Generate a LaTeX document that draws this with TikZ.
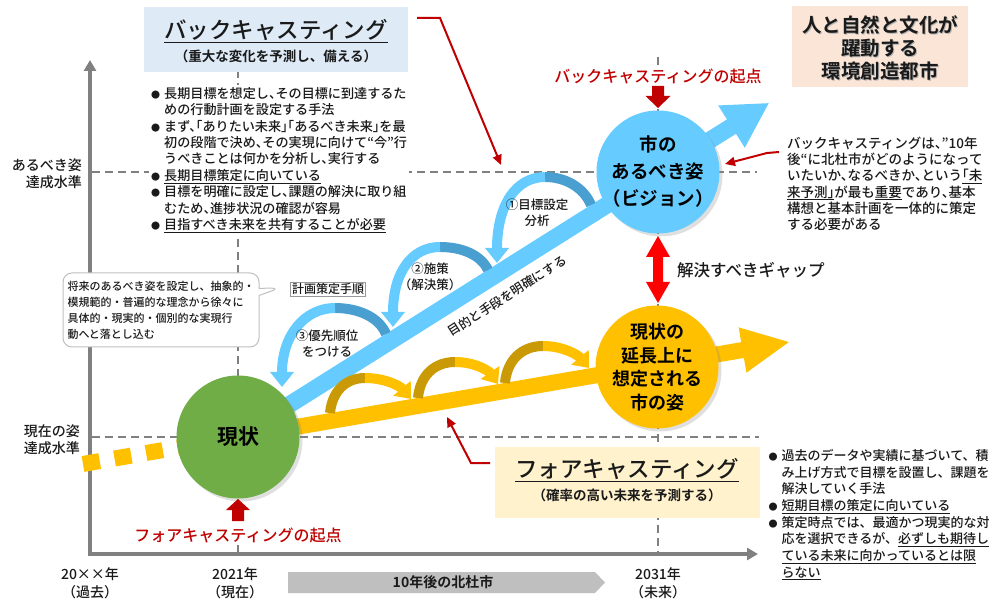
\documentclass[tikz,border=0pt]{standalone}
\usepackage{fontspec}
\setmainfont{Noto Sans CJK JP Medium}[BoldFont={Noto Sans CJK JP Bold}]
\usetikzlibrary{arrows.meta,shapes.callouts,shadows}
\definecolor{axgray}{HTML}{808080}
\definecolor{skyb}{HTML}{66CCFF}
\definecolor{skyd}{HTML}{4A9FD1}
\definecolor{gold}{HTML}{FFC000}
\definecolor{goldd}{HTML}{C99A06}
\definecolor{leaf}{HTML}{70AD47}
\definecolor{dred}{HTML}{C00000}
\definecolor{bred}{HTML}{FF0000}
\definecolor{bcfill}{HTML}{DEEBF7}
\definecolor{fcfill}{HTML}{FFF2CC}
\definecolor{peach}{HTML}{FBE5D6}
\definecolor{pent}{HTML}{BFBFBF}
\definecolor{txt}{HTML}{1A1A1A}
\newcommand{\mybul}{\makebox[13pt][l]{\fontsize{9}{9}\selectfont ●}}
\newcommand{\myind}{\hspace*{13pt}}
\begin{document}
\begin{tikzpicture}[x=1pt,y=-1pt,
  axisline/.style={draw=axgray,line width=3.5pt},
  guide/.style={draw=axgray,line width=2.5pt,dash pattern=on 8pt off 5pt},
  axlbl/.style={text=txt,inner sep=1pt,font=\fontsize{14}{17}\selectfont},
  xlbl/.style={text=txt,inner sep=1pt,align=center,font=\fontsize{14}{18}\selectfont},
  blist/.style={text=txt,fill=white,inner sep=2pt,align=left,font=\fontsize{13.1}{16.4}\selectfont\addfontfeature{RawFeature=+halt}},
  flist/.style={text=txt,fill=white,inner sep=2pt,align=left,font=\fontsize{13}{16.7}\selectfont},
  nlist/.style={text=txt,fill=white,inner sep=2pt,align=left,font=\fontsize{13.5}{16.3}\selectfont\addfontfeature{RawFeature=+halt}},
  steplbl/.style={text=txt,inner sep=1pt,align=center,font=\fontsize{12.5}{16}\selectfont},
  redlbl/.style={text=dred,fill=white,inner sep=2pt,font=\fontsize{16}{18}\selectfont},
  redarrow/.style={draw=dred,line width=2pt,-{Triangle[width=9pt,length=10pt]}},
  circ/.style={circle,minimum size=123pt,inner sep=0pt,drop shadow={opacity=0.25,shadow xshift=3pt,shadow yshift=-3pt}},
  ctext/.style={text=black,align=center,inner sep=0pt,font=\bfseries\fontsize{18}{23.5}\selectfont},
  hbox/.style={inner sep=0pt},
  htitle/.style={text=txt,inner sep=0pt,font=\fontsize{22.5}{26}\selectfont},
  hsub/.style={text=txt,inner sep=0pt,font=\bfseries\fontsize{13.5}{16}\selectfont},
  barc/.style={line width=10pt},
]
\useasboundingbox (0,0) rectangle (993,601);

% guide lines
\coordinate (gl1) at (92,172); \coordinate (gr1) at (757,172);
\coordinate (gl2) at (92,437); \coordinate (gr2) at (759,437);
\coordinate (v1t) at (238,70); \coordinate (v1b) at (238,380);
\coordinate (v2t) at (658,57); \coordinate (v2b) at (658,553);
\draw[guide] (gl1) -- (gr1);
\draw[guide] (gl2) -- (gr2);
\draw[guide] (v1t) -- (v1b);
\draw[guide] (v2t) -- (v2b);

% axes
\coordinate (org) at (90,554);
\coordinate (ytip) at (90,60);
\coordinate (xtip) at (758,554);
\draw[axisline,{Triangle[width=12pt,length=11pt]}-{Triangle[width=12pt,length=11pt]}] (ytip) -- (org) -- (xtip);
\coordinate (tk1) at (238,544); \coordinate (tk2) at (238,554);
\draw[draw=axgray,line width=2.5pt] (tk1) -- (tk2);

% axis labels
\node[axlbl,anchor=east,align=right] (lvl1) at (83,174) {あるべき姿\\達成水準};
\node[axlbl,anchor=east,align=right] (lvl2) at (81,440) {現在の姿\\達成水準};
\node[xlbl] (x0) at (90,583) {20××年\\（過去）};
\node[xlbl] (x1) at (235,583) {2021年\\（現在）};
\node[xlbl] (x2) at (658,583) {2031年\\（未来）};

% ten-year bar
\fill[pent] (288,572) -- (595,572) -- (605,582.5) -- (595,593) -- (288,593) -- cycle;
\node[text=txt,font=\bfseries\fontsize{14}{16}\selectfont] (tenyr) at (443,582.5) {10年後の北杜市};

% backcasting header
\node[hbox,fill=bcfill,minimum width=264pt,minimum height=65pt] (bcbox) at (276,39.5) {};
\node[htitle] (bctitle) at (276,31) {\underline{バックキャスティング}};
\node[hsub] (bcsub) at (276,56) {（重大な変化を予測し、備える）};

% backcasting list
\node[blist,anchor=north west] (bclist) at (149,85) {%
\mybul 長期目標を想定し、その目標に到達するた\\
\myind めの行動計画を設定する手法\\
\mybul まず、「ありたい未来」「あるべき未来」を最\\
\myind 初の段階で決め、その実現に向けて“今”行\\
\myind うべきことは何かを分析し、実行する\\
\mybul \underline{長期目標策定に向いている}\\
\mybul 目標を明確に設定し、課題の解決に取り組\\
\myind むため、進捗状況の確認が容易\\
\mybul \underline{目指すべき未来を共有することが必要}};

% callout
\node[rectangle callout,draw=pent,line width=1pt,fill=white,rounded corners=9pt,
      minimum width=196pt,minimum height=74pt,callout absolute pointer={(280,288)},
      align=left,text=txt,inner sep=3pt,font=\fontsize{11}{16}\selectfont] (memo) at (161,310)
 {将来のあるべき姿を設定し、抽象的・\\模規範的・普遍的な理念から徐々に\\具体的・現実的・個別的な実現行\\動へと落とし込む};
\node[draw=axgray!80,line width=0.6pt,inner sep=1.5pt,text=txt,font=\fontsize{12}{14}\selectfont] (plan) at (328,289) {計画策定手順};

% forecasting header
\node[hbox,fill=fcfill,minimum width=265pt,minimum height=71pt] (fcbox) at (627.5,482.5) {};
\node[htitle] (fctitle) at (627,470) {\underline{フォアキャスティング}};
\node[hsub] (fcsub) at (627,495) {（確率の高い未来を予測する）};

% forecasting list
\node[flist,anchor=north west] (fclist) at (766.5,447) {%
\mybul 過去のデータや実績に基づいて、積\\
\myind み上げ方式で目標を設置し、課題を\\
\myind 解決していく手法\\
\mybul \underline{短期目標の策定に向いている}\\
\mybul 策定時点では、最適かつ現実的な対\\
\myind 応を選択できるが、\underline{必ずしも期待し}\\
\myind \underline{ている未来に向かっているとは限}\\
\myind \underline{らない}};

% right top note
\node[nlist,anchor=north west] (note) at (785,134.5) {%
バックキャスティングは、”10年\\
後“に北杜市がどのようになって\\
いたいか、なるべきか、という\underline{「未}\\
\underline{来予測」}が最も\underline{重要}であり、基本\\
構想と基本計画を一体的に策定\\
する必要がある};

% goal box
\node[hbox,fill=peach,minimum width=176pt,minimum height=81pt] (goalbox) at (880,46.5) {};
\node[text=black!30,align=center,inner sep=0pt,font=\bfseries\fontsize{19.5}{23}\selectfont] (goalsh) at (881.2,48.7) {人と自然と文化が\\躍動する\\環境創造都市};
\node[text=txt,align=center,inner sep=0pt,font=\bfseries\fontsize{19.5}{23}\selectfont] (goal) at (880,47.5) {人と自然と文化が\\躍動する\\環境創造都市};

% yellow dashed past line
\coordinate (c0) at (238,437);
\coordinate (past) at (83,464);
\draw[gold,line width=16pt,dash pattern=on 17pt off 15pt] (past) -- (c0);

% bands
\begin{scope}[shift={(c0)},rotate=32.17]
\fill[skyb] (0,-8.5) -- (583,-8.5) -- (583,-25) -- (627,0) -- (583,25) -- (583,8.5) -- (0,8.5) -- cycle;
\end{scope}
\begin{scope}[shift={(c0)},rotate=9.78]
\fill[gold] (0,-8) -- (512,-8) -- (512,-23) -- (559,0) -- (512,23) -- (512,8) -- (0,8) -- cycle;
\end{scope}
\node[rotate=32.5,text=txt,inner sep=0pt,font=\fontsize{12.5}{14}\selectfont] (purpose) at (507,296) {目的と手段を明確にする};

% blue curved arrows
\coordinate (a1s) at (591,205); \coordinate (a1p) at (545,177); \coordinate (a1t) at (497,263);
\coordinate (a2s) at (488,270); \coordinate (a2p) at (440,247); \coordinate (a2t) at (393,327);
\coordinate (a3s) at (386,334); \coordinate (a3p) at (335,308); \coordinate (a3t) at (282,387);
\draw[barc,skyd] (a1s) .. controls (584,188) and (566,177) .. (a1p);
\draw[barc,skyb,-{Triangle[width=23pt,length=15pt]}] (a1p) .. controls (516,177) and (497,205) .. (a1t);
\draw[barc,skyd] (a2s) .. controls (481,255) and (462,247) .. (a2p);
\draw[barc,skyb,-{Triangle[width=23pt,length=15pt]}] (a2p) .. controls (412,247) and (393,272) .. (a2t);
\draw[barc,skyd] (a3s) .. controls (379,317) and (358,308) .. (a3p);
\draw[barc,skyb,-{Triangle[width=23pt,length=15pt]}] (a3p) .. controls (305,308) and (282,335) .. (a3t);
\node[steplbl] (s1) at (537,213) {①目標設定\\分析};
\node[steplbl] (s2) at (430,277) {②施策\\（解決策）};
\node[steplbl] (s3) at (327,344) {③優先順位\\をつける};

% yellow curved arrows
\coordinate (b1s) at (330,413); \coordinate (b1p) at (365,378); \coordinate (b1t) at (411,399);
\coordinate (b2s) at (418,398); \coordinate (b2p) at (455,362); \coordinate (b2t) at (498,384);
\coordinate (b3s) at (505,383); \coordinate (b3p) at (543,346); \coordinate (b3t) at (589,368);
\draw[barc,goldd] (b1s) .. controls (332,392) and (345,378) .. (b1p);
\draw[barc,gold,-{Triangle[width=22pt,length=14pt]}] (b1p) .. controls (385,378) and (400,386) .. (b1t);
\draw[barc,goldd] (b2s) .. controls (420,375) and (435,362) .. (b2p);
\draw[barc,gold,-{Triangle[width=22pt,length=14pt]}] (b2p) .. controls (475,362) and (489,371) .. (b2t);
\draw[barc,goldd] (b3s) .. controls (507,360) and (522,346) .. (b3p);
\draw[barc,gold,-{Triangle[width=22pt,length=14pt]}] (b3p) .. controls (563,346) and (578,355) .. (b3t);

% circles
\node[circ,fill=leaf] (now) at (c0) {};
\node[text=black,inner sep=0pt,font=\bfseries\fontsize{21}{24}\selectfont] (nowtxt) at (now) {現状};
\node[circ,fill=skyb] (vision) at (658,172) {};
\node[ctext,font=\bfseries\fontsize{18.5}{27}\selectfont] (visiontxt) at (vision) {市の\\あるべき姿\\（ビジョン）};
\node[circ,fill=gold] (fut) at (657,367) {};
\node[ctext] (futtxt) at (fut) {現状の\\延長上に\\想定される\\市の姿};

% gap arrow
\fill[bred] (658,236) -- (670,257) -- (663,257) -- (663,282) -- (670,282) -- (658,303) -- (646,282) -- (653,282) -- (653,257) -- (646,257) -- cycle;
\node[text=txt,anchor=west,inner sep=0pt,font=\fontsize{16.5}{18}\selectfont] (gap) at (677,270) {解決すべきギャップ};

% start markers
\node[redlbl] (bcstart) at (658,76) {バックキャスティングの起点};
\fill[dred] (652,86) -- (664,86) -- (664,96) -- (670.5,96) -- (658,108) -- (645.5,96) -- (652,96) -- cycle;
\node[redlbl] (fcstart) at (238,535) {フォアキャスティングの起点};
\fill[dred] (238,499) -- (250,510) -- (244,510) -- (244,521) -- (232,521) -- (232,510) -- (226,510) -- cycle;

% red pointer arrows
\coordinate (bcA) at (417,18); \coordinate (bcB) at (440,18); \coordinate (bcC) at (501,165);
\draw[redarrow] (bcA) -- (bcB) -- (bcC);
\coordinate (rtA) at (779,152); \coordinate (rtB) at (767,153); \coordinate (rtC) at (725,164);
\draw[redarrow] (rtA) -- (rtB) -- (rtC);
\coordinate (fcA) at (490,463); \coordinate (fcB) at (471,463); \coordinate (fcC) at (447,417);
\draw[redarrow] (fcA) -- (fcB) -- (fcC);
\end{tikzpicture}
\end{document}
